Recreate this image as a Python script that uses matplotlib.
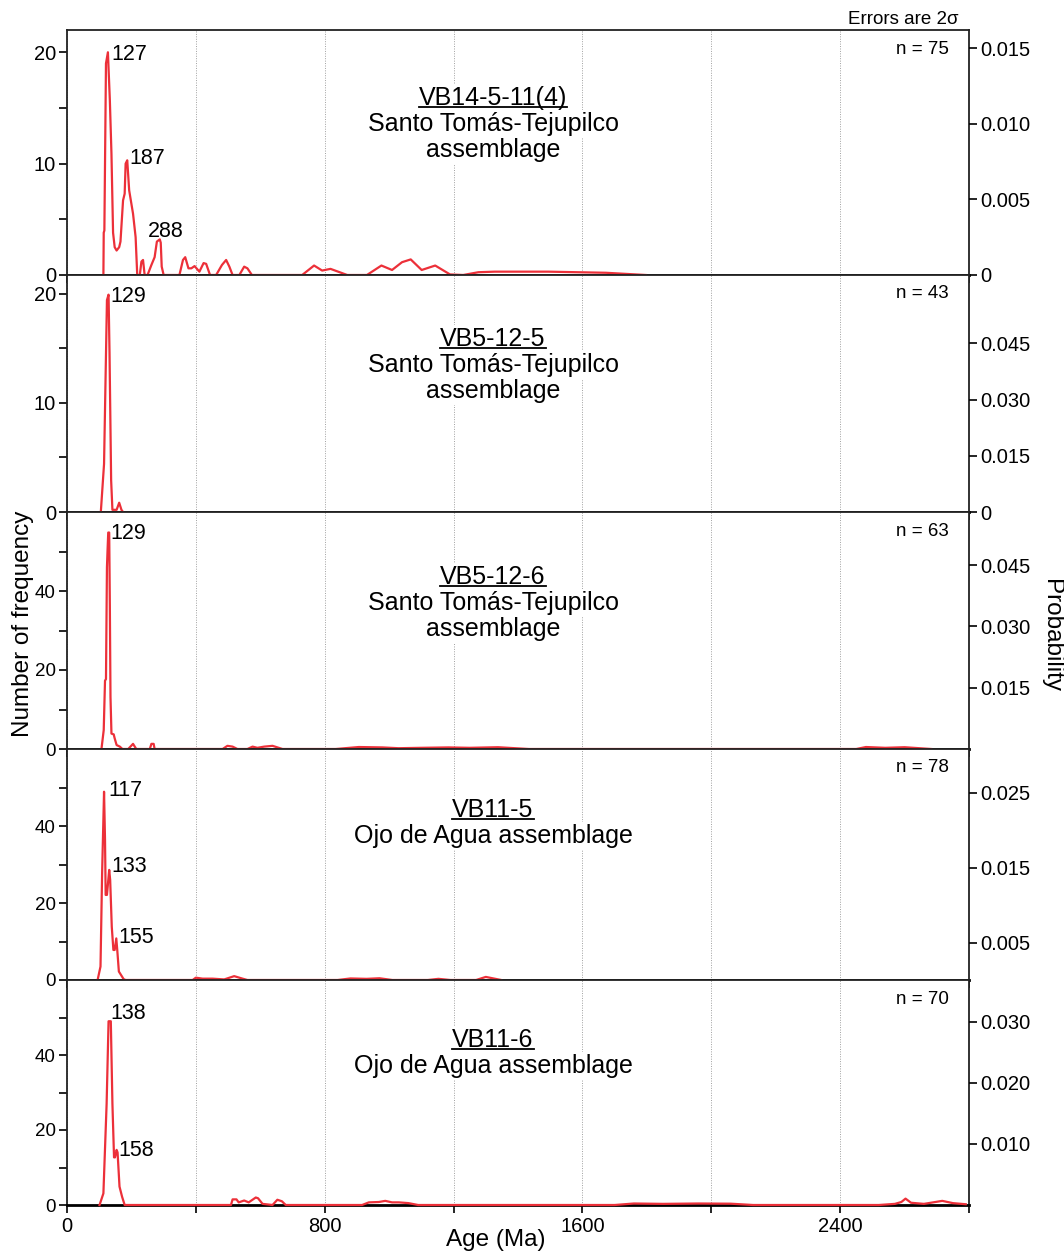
import matplotlib
matplotlib.use('Agg')
import numpy as np
import matplotlib.pyplot as plt
from matplotlib.lines import Line2D
from matplotlib.ticker import FixedLocator, FuncFormatter

plt.rcParams['font.family'] = ['Liberation Sans', 'DejaVu Sans']

# Sample info
samples = ['VB14-5-11(4)', 'VB5-12-5', 'VB5-12-6', 'VB11-5', 'VB11-6']
assemblages = [['Santo Tomás-Tejupilco', 'assemblage'],
               ['Santo Tomás-Tejupilco', 'assemblage'],
               ['Santo Tomás-Tejupilco', 'assemblage'],
               ['Ojo de Agua assemblage'],
               ['Ojo de Agua assemblage']]
counts = [75, 43, 63, 78, 70]

# Probability density curves (age in Ma, frequency)
vb14_age = [113, 114, 116, 121, 127, 133, 138, 143, 148, 154, 162, 166, 174, 179, 182,
            187, 193, 205, 213, 218, 226, 231, 236, 241, 250, 262, 272, 279, 288, 291,
            294, 300, 349, 360, 367, 377, 386, 396, 411, 424, 432, 444, 463, 481, 494,
            504, 514, 535, 550, 560, 574, 730, 767, 792, 818, 870, 931, 976, 1009, 1040,
            1067, 1101, 1143, 1189, 1230, 1277, 1328, 1493, 1673, 1797]
vb14_freq = [0, 3.8, 4.0, 19.0, 20.0, 15.7, 10.9, 3.8, 2.5, 2.2, 2.5, 3.0, 6.7, 7.3, 10.0,
             10.3, 7.6, 5.5, 3.4, 0, 0, 1.2, 1.35, 0, 0, 0.9, 1.6, 3.0, 3.2, 2.9,
             0.75, 0, 0, 1.35, 1.6, 0.6, 0.6, 0.8, 0.3, 1.07, 1.0, 0, 0, 0.9, 1.35,
             0.75, 0, 0, 0.75, 0.6, 0, 0, 0.85, 0.4, 0.55, 0, 0, 0.85, 0.45, 1.15,
             1.4, 0.45, 0.85, 0.05, 0, 0.25, 0.3, 0.3, 0.2, 0]

vb5125_age = [105, 115, 124, 129, 132, 137, 141, 154, 162, 169, 174]
vb5125_freq = [0, 4.4, 19.4, 19.9, 14.6, 2.9, 0.2, 0.2, 0.85, 0.2, 0]

vb5126_age = [107, 114, 118, 121, 124, 126, 128, 131, 133, 135, 138, 145, 148, 154, 164,
              172, 190, 205, 215, 257, 262, 269, 272, 483, 498, 514, 529, 560, 576, 591,
              612, 638, 669, 834, 906, 979, 1029, 1100, 1184, 1250, 1338, 1434, 2450, 2480, 2540,
              2600, 2683]
vb5126_freq = [0, 4.8, 17.3, 17.7, 46, 50.6, 54.8, 54.8, 36.4, 13.2, 3.9, 3.7, 2.7, 1.0, 0.6,
               0, 0, 1.3, 0, 0, 1.3, 1.3, 0, 0, 0.8, 0.6, 0, 0, 0.6, 0.3,
               0.6, 0.8, 0, 0, 0.5, 0.4, 0.2, 0.3, 0.4, 0.3, 0.45, 0, 0, 0.5, 0.3,
               0.45, 0]

vb115_age = [95, 104, 109, 115, 118, 120, 124, 131, 134, 139, 144, 148, 153, 156, 161,
             176, 182, 390, 400, 421, 452, 488, 519, 545, 560, 840, 880, 930, 970, 1010,
             1120, 1153, 1190, 1270, 1300, 1330, 1348]
vb115_freq = [0, 3.5, 27.7, 48.9, 36.4, 22.1, 22.1, 28.6, 26, 13.8, 7.8, 7.8, 10.8, 7.8, 2.2,
              0.2, 0, 0, 0.6, 0.35, 0.35, 0.15, 1.0, 0.35, 0, 0, 0.4, 0.3, 0.45, 0,
              0, 0.3, 0, 0, 0.8, 0.3, 0]

vb116_age = [101, 113, 123, 129, 136, 141, 146, 149, 154, 157, 163, 171, 179, 509, 514,
             526, 533, 550, 564, 586, 593, 607, 638, 653, 667, 679, 916, 937, 968, 988,
             1009, 1030, 1060, 1090, 1700, 1760, 1850, 1960, 2060, 2130, 2520, 2570, 2590, 2603, 2620,
             2660, 2717, 2750, 2790]
vb116_freq = [0, 3.1, 27, 49, 49, 27, 12.7, 12.7, 14.7, 14, 4.9, 2.2, 0, 0, 1.5,
              1.5, 0.7, 1.2, 0.7, 2.0, 1.8, 0.3, 0, 1.4, 1.0, 0, 0, 0.7, 0.8, 1.1,
              0.7, 0.7, 0.5, 0, 0, 0.4, 0.3, 0.4, 0.35, 0, 0, 0.3, 0.8, 1.7, 0.6,
              0.3, 1.1, 0.5, 0.2]

ages = [vb14_age, vb5125_age, vb5126_age, vb115_age, vb116_age]
freqs = [vb14_freq, vb5125_freq, vb5126_freq, vb115_freq, vb116_freq]

# labelled peaks (Ma) and where the curve tops out for each
peaks = [[127, 187, 288], [129], [129], [117, 133, 155], [138, 158]]
peak_at = [[127, 187, 288], [129], [129], [115, 131, 153], [133, 154]]

# axis scales
left_max = [22, 21.7, 60, 60, 60]
left_major = [[0, 10, 20], [0, 10, 20], [0, 20, 40], [0, 20, 40], [0, 20, 40]]
left_minor = [[5, 15], [5, 15], [10, 30, 50], [10, 30, 50], [10, 30, 50]]
right_max = [0.0162, 0.0632, 0.058, 0.0308, 0.0368]
right_ticks = [[0, 0.005, 0.010, 0.015], [0, 0.015, 0.030, 0.045],
               [0.015, 0.030, 0.045], [0.005, 0.015, 0.025], [0.010, 0.020, 0.030]]

# label offsets in pixels (dx, dy, ha, va)
peak_style = [[(3, -2, 'left', 'center'), (2, 2, 'left', 'center'), (6, 2, 'center', 'baseline')],
              [(2, -2, 'left', 'center')],
              [(2, -1, 'left', 'center')],
              [(4, 1, 'left', 'center'), (2, 3, 'left', 'center'), (2, 1, 'left', 'center')],
              [(1, 8, 'left', 'center'), (2, -1, 'left', 'center')]]

W, H = 1064, 1251
edges = [30, 275, 512, 749, 980, 1205]
x0, x1 = 67, 969
red = '#ec3039'

fig = plt.figure(figsize=(W / 100, H / 100), dpi=100)

underline_texts = []
for i in range(5):
    top, bot = edges[i], edges[i + 1]
    ax = fig.add_axes([x0 / W, 1 - bot / H, (x1 - x0) / W, (bot - top) / H])
    ax.plot(ages[i], freqs[i], color=red, lw=1.6, zorder=3, clip_on=False)
    ax.set_xlim(0, 2790)
    ax.set_ylim(0, left_max[i])

    ax.set_xticks(np.arange(0, 2801, 400))
    ax.grid(axis='x', linestyle=(0, (1, 1.5)), color='#a0a0a0', lw=0.7)
    if i == 4:
        ax.xaxis.set_major_formatter(FuncFormatter(lambda v, p: '%d' % v if v % 800 == 0 else ''))
    else:
        ax.xaxis.set_major_formatter(FuncFormatter(lambda v, p: ''))
    ax.tick_params(axis='x', direction='out', length=6, width=1.2, labelsize=14.5, pad=3)

    ax.yaxis.set_major_locator(FixedLocator(left_major[i]))
    ax.yaxis.set_minor_locator(FixedLocator(left_minor[i]))
    ax.yaxis.set_major_formatter(FuncFormatter(lambda v, p: '%d' % v))
    ls = 14.5 if i < 2 else 13.5
    ax.tick_params(axis='y', which='both', direction='out', length=6, width=1.2,
                   labelsize=ls, pad=2)

    for s in ['left', 'right', 'top']:
        ax.spines[s].set_linewidth(1.3)
        ax.spines[s].set_color('#222222')
    ax.spines['bottom'].set_linewidth(2.0)
    ax.spines['bottom'].set_color('black')

    ax2 = ax.twinx()
    ax2.set_ylim(0, right_max[i])
    ax2.set_yticks(right_ticks[i])
    ax2.set_yticklabels(['0' if t == 0 else '%.3f' % t for t in right_ticks[i]])
    ax2.tick_params(axis='y', direction='out', length=6, width=1.2, labelsize=14.5, pad=2)
    for s in ['left', 'right', 'top', 'bottom']:
        ax2.spines[s].set_visible(False)

    # peak labels
    for pk, pa, (dx, dy, ha, va) in zip(peaks[i], peak_at[i], peak_style[i]):
        yv = np.interp(pa, ages[i], freqs[i])
        ax.annotate(str(pk), xy=(pa, yv), xytext=(dx, dy), textcoords='offset pixels',
                    ha=ha, va=va, fontsize=15.5, zorder=5)

    # n count
    ax.text(949 / W, 1 - (top + 19) / H, 'n = %d' % counts[i], transform=fig.transFigure,
            ha='right', va='center', fontsize=13.5)

    # sample title
    base = top + [75, 71, 72, 68, 67][i]
    lines = [samples[i]] + assemblages[i]
    for k, line in enumerate(lines):
        t = ax.text(493 / W, 1 - (base + 26 * k) / H, line, transform=fig.transFigure,
                    ha='center', va='baseline', fontsize=18, zorder=4,
                    bbox=dict(facecolor='white', edgecolor='none', pad=1.5))
        if k == 0:
            underline_texts.append((t, base))

fig.text(958 / W, 1 - 20 / H, 'Errors are 2\u03c3', ha='right', va='center', fontsize=13.5)
fig.text(23 / W, 1 - 624 / H, 'Number of frequency', rotation=90, ha='center', va='center',
         fontsize=17.5)
fig.text(1051 / W, 1 - 636 / H, 'Probability', rotation=270, ha='center', va='center',
         fontsize=17.5)
fig.text(496 / W, 1 - 1240 / H, 'Age (Ma)', ha='center', va='center', fontsize=17.5)

# underline sample names
fig.canvas.draw()
renderer = fig.canvas.get_renderer()
for t, base in underline_texts:
    bb = t.get_window_extent(renderer)
    yline = 1 - (base + 2) / H
    fig.add_artist(Line2D([bb.x0 / W, bb.x1 / W], [yline, yline], transform=fig.transFigure,
                          color='black', lw=1.3))

fig.savefig('out.png', dpi=100)
